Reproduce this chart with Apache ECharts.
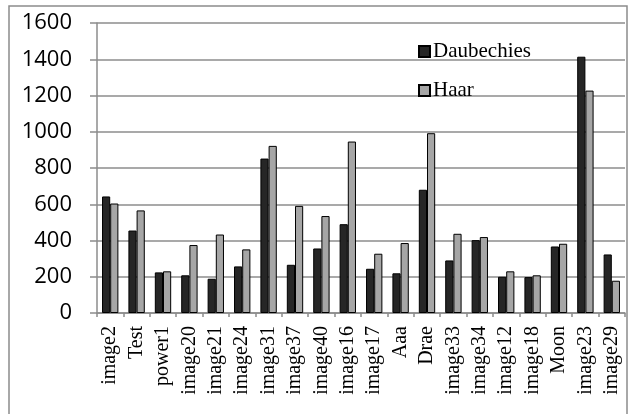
<!DOCTYPE html>
<html lang="en">
<head>
    <meta charset="utf-8">
    <title>Daubechies vs Haar</title>
    <script src="https://cdn.jsdelivr.net/npm/echarts@6/dist/echarts.min.js"></script>
    <style>
        html, body { margin: 0; padding: 0; background: #fff; }
        #main { width: 628px; height: 414px; }
    </style>
</head>
<body>
<div id="main"></div>
<script type="text/javascript">
// image names on the x axis
var categories = ['image2', 'Test', 'power1', 'image20', 'image21', 'image24', 'image31', 'image37',
    'image40', 'image16', 'image17', 'Aaa', 'Drae', 'image33', 'image34', 'image12', 'image18',
    'Moon', 'image23', 'image29'];
var daubechies = [643, 455, 224, 208, 189, 257, 852, 266, 356, 490, 244, 219, 680, 290, 402, 200, 198, 367, 1414, 323];
var haar = [604, 566, 230, 375, 433, 351, 922, 591, 535, 946, 327, 386, 992, 437, 419, 230, 208, 382, 1227, 178];
var yTicks = [0, 200, 400, 600, 800, 1000, 1200, 1400, 1600];

var myChart = echarts.init(document.getElementById('main'));

var axisGray = '#8c8c8c';

var option = {
    animation: false,
    // outer frame
    graphic: [{
        type: 'rect',
        shape: { x: 9, y: 6, width: 618, height: 420 },
        style: { fill: 'none', stroke: '#8c8c8c', lineWidth: 1.5 },
        silent: true
    }],
    grid: {
        left: 97,
        right: 3,
        top: 23,
        bottom: 101
    },
    legend: {
        orient: 'vertical',
        left: 413,
        top: 36,
        itemWidth: 11,
        itemHeight: 11,
        itemGap: 18,
        icon: 'rect',
        textStyle: {
            fontFamily: 'Liberation Serif',
            fontSize: 21,
            color: '#000',
            padding: [0, 0, 0, -2]
        },
        data: ['Daubechies', 'Haar']
    },
    xAxis: {
        type: 'category',
        data: categories,
        axisLine: { lineStyle: { color: axisGray, width: 1.5 } },
        axisTick: { show: true, length: 4, lineStyle: { color: axisGray, width: 1.5 } },
        axisLabel: {
            rotate: 90,
            interval: 0,
            margin: 13,
            fontFamily: 'Liberation Serif',
            fontSize: 20,
            color: '#000'
        }
    },
    yAxis: {
        type: 'value',
        min: yTicks[0],
        max: yTicks[yTicks.length - 1],
        interval: 200,
        axisLine: { show: true, lineStyle: { color: axisGray, width: 1.5 } },
        axisTick: { show: true, inside: false, length: 7, lineStyle: { color: axisGray, width: 1.5 } },
        splitLine: { show: true, lineStyle: { color: axisGray, width: 1.5 } },
        axisLabel: {
            margin: 25,
            fontFamily: 'Open Sans',
            fontSize: 22,
            color: '#000',
            formatter: function (v) { return String(v); }
        }
    },
    series: [{
        name: 'Daubechies',
        type: 'bar',
        data: daubechies,
        barGap: '0%',
        barCategoryGap: '38%',
        itemStyle: { color: '#262626', borderColor: '#000', borderWidth: 1 }
    }, {
        name: 'Haar',
        type: 'bar',
        data: haar,
        barGap: '0%',
        barCategoryGap: '38%',
        itemStyle: { color: '#a6a6a6', borderColor: '#000', borderWidth: 1 }
    }]
};

myChart.setOption(option);
</script>
</body>
</html>
